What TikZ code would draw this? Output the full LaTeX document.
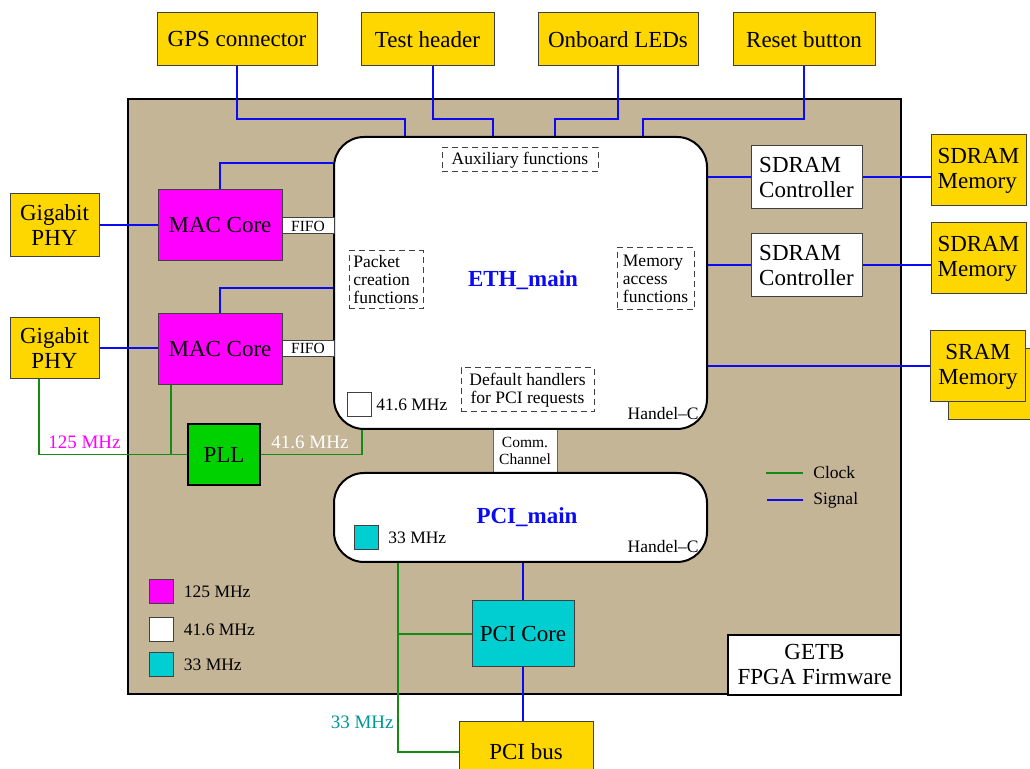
\documentclass[tikz,border=0pt]{standalone}
\usepackage{fontspec}
\setmainfont{Liberation Serif}
\usepackage{tikz}
\definecolor{colboard}{RGB}{197,181,151}
\definecolor{colext}{RGB}{255,215,0}
\definecolor{colmac}{RGB}{255,0,255}
\definecolor{colpci}{RGB}{0,206,209}
\definecolor{colpll}{RGB}{0,210,0}
\definecolor{colclock}{RGB}{20,140,20}
\definecolor{colsignal}{RGB}{10,10,245}
\definecolor{colteal}{RGB}{0,150,150}
\usetikzlibrary{
	positioning
}
\newcommand{\bigtext}{\fontsize{11.5}{12.5}\selectfont}
\newcommand{\midtext}{\fontsize{9.5}{10}\selectfont}
\newcommand{\smalltext}{\fontsize{8.75}{9}\selectfont}
\newcommand{\tinytext}{\fontsize{7.75}{8.5}\selectfont}
\tikzset{
	blocknode/.style={draw=black!75, line width=0.5pt, inner sep=1pt, align=center, font=\bigtext},
	extnode/.style={blocknode, fill=colext},
	macnode/.style={blocknode, fill=colmac, minimum width=62pt, minimum height=35.5pt},
	ctrlnode/.style={blocknode, fill=white, align=left, minimum width=55.5pt, minimum height=31.5pt},
	memnode/.style={extnode, minimum width=47.5pt, minimum height=35.5pt},
	fifonode/.style={blocknode, fill=white, font=\tinytext, inner sep=0pt, minimum width=26pt, minimum height=8pt},
	threadnode/.style={draw=black, line width=1pt, fill=white, rounded corners=15pt},
	funcnode/.style={draw=black!75, line width=0.5pt, dash pattern=on 3pt off 2pt, inner sep=1pt, font=\smalltext},
	clksquare/.style={draw=black!75, line width=0.5pt, inner sep=0pt, minimum size=12pt},
	titlenode/.style={font=\bigtext\bfseries, text=colsignal},
	smalllabel/.style={font=\smalltext, inner sep=0pt},
	midlabel/.style={font=\midtext, inner sep=0pt},
	signal/.style={colsignal, line width=1pt},
	clock/.style={colclock, line width=0.9pt}
}

\begin{document}
\begin{tikzpicture}[x=0.5pt, y=-0.5pt]
	\fill[white] (0,0) rectangle (1030,769);
	\useasboundingbox (0,0) rectangle (1030,769);

	% the FPGA board
	\node[draw=black, line width=1pt, fill=colboard, minimum width=386.5pt, minimum height=297.5pt] (fpga) at (514.5,396.5) {};
	\node[draw=black!60, line width=0.4pt, fill=white, font=\tinytext, inner sep=0pt, align=center, minimum width=32pt, minimum height=22pt] (comm) at (525,451) {Comm.\\Channel};
	\node[threadnode, minimum width=186.5pt, minimum height=146pt] (eth) at (520.5,283) {};
	\node[threadnode, minimum width=186.5pt, minimum height=44.5pt] (pcimain) at (520.5,517.5) {};
	\node[titlenode] (ethtitle) at (523,280) {ETH\_main};
	\node[titlenode] (pcititle) at (527,517) {PCI\_main};

	\node[funcnode, minimum width=78pt, minimum height=12pt] (aux) at (520,160) {Auxiliary functions};
	\node[funcnode, align=left, minimum width=37pt, minimum height=29pt] (packet) at (386,280) {Packet\\creation\\functions};
	\node[funcnode, align=left, minimum width=38.5pt, minimum height=31pt] (memacc) at (655.5,279) {Memory\\access\\functions};
	\node[funcnode, align=center, minimum width=66.5pt, minimum height=22pt] (pcidefault) at (527.5,390) {Default handlers\\for PCI requests};

	\node[clksquare, fill=white] (ethclk) at (359.5,405) {};
	\node[smalllabel, right=2pt of ethclk] (ethclklbl) {41.6 MHz};
	\node[smalllabel, anchor=base east] (ethlang) at (699,420) {Handel--C};
	\node[clksquare, fill=colpci] (pciclksq) at (366.5,538) {};
	\node[smalllabel, right=4.5pt of pciclksq] (pciclklbl) {33 MHz};
	\node[smalllabel, anchor=base east] (pcilang) at (699,553) {Handel--C};

	% legend
	\node[clksquare, fill=colmac] (key125) at (161,592) {};
	\node[smalllabel, right=5pt of key125] (key125lbl) {125 MHz};
	\node[clksquare, fill=white] (key416) at (161,630) {};
	\node[smalllabel, right=5pt of key416] (key416lbl) {41.6 MHz};
	\node[clksquare, fill=colpci] (key33) at (161,665) {};
	\node[smalllabel, right=5pt of key33] (key33lbl) {33 MHz};
	\node[smalllabel, anchor=west] (keyclock) at (813,473) {Clock};
	\node[smalllabel, anchor=west] (keysignal) at (813,500) {Signal};

	\node[blocknode, fill=white, draw=black, line width=1pt, minimum width=86.5pt, minimum height=30pt] (getb) at (814.5,665) {GETB\\FPGA Firmware};

	% blocks
	\node[blocknode, fill=colpci, minimum width=51pt, minimum height=33pt] (pcicore) at (523,634) {PCI Core};
	\node[extnode, minimum width=67pt, minimum height=30pt] (pcibus) at (526,752) {PCI bus};

	\node[macnode] (maca) at (220,225.5) {MAC Core};
	\node[macnode] (macb) at (220,349.5) {MAC Core};
	\node[fifonode] (fifoa) at (308,226) {FIFO};
	\node[fifonode] (fifob) at (308,348.5) {FIFO};
	\node[blocknode, fill=colpll, draw=black, line width=1pt, minimum width=36pt, minimum height=30.5pt] (pll) at (224,454.5) {PLL};
	\node[extnode, minimum width=44.5pt, minimum height=31.5pt] (phya) at (54.5,225.5) {Gigabit\\PHY};
	\node[extnode, minimum width=44.5pt, minimum height=30.5pt] (phyb) at (54.5,348.5) {Gigabit\\PHY};

	\node[ctrlnode] (ctrla) at (806.5,177.5) {SDRAM\\Controller};
	\node[ctrlnode] (ctrlb) at (806.5,265.5) {SDRAM\\Controller};
	\node[memnode, align=left] (mema) at (978.5,170.5) {SDRAM\\Memory};
	\node[memnode, align=left] (memb) at (978.5,258.5) {SDRAM\\Memory};
	\node[memnode] (sramback) at (995.5,384.5) {};
	\node[memnode] (sram) at (978,366.5) {SRAM\\Memory};

	\node[extnode, minimum width=80pt, minimum height=26.5pt] (gps) at (237,39.5) {GPS connector};
	\node[extnode, minimum width=66.5pt, minimum height=26.5pt] (testhdr) at (427.5,39.5) {Test header};
	\node[extnode, minimum width=80pt, minimum height=26.5pt] (leds) at (618,39.5) {Onboard LEDs};
	\node[extnode, minimum width=71pt, minimum height=26.5pt] (reset) at (804,39.5) {Reset button};

	% signals
	\draw[signal] (gps.south) -- ++(0,53) -| ([xshift=36pt]eth.north west);
	\draw[signal] ([xshift=2.5pt]testhdr.south) -- ++(0,53) -| ([xshift=80pt]eth.north west);
	\draw[signal] (leds.south) -- ++(0,53) -| ([xshift=111pt]eth.north west);
	\draw[signal] (reset.south) -- ++(0,53) -| ([xshift=155pt]eth.north west);
	\draw[signal] (phya.east) -- (phya.east -| maca.west);
	\draw[signal] (phyb.east) -- (phyb.east -| macb.west);
	\draw[signal] (maca.north) |- ([yshift=60pt]eth.west);
	\draw[signal] (macb.north) |- ([yshift=-2.5pt]eth.west);
	\draw[signal] (ctrla.west) -- (ctrla.west -| eth.east);
	\draw[signal] (ctrla.east) -- (ctrla.east -| mema.west);
	\draw[signal] (ctrlb.west) -- (ctrlb.west -| eth.east);
	\draw[signal] (ctrlb.east) -- (ctrlb.east -| memb.west);
	\draw[signal] (sram.west) -- (sram.west -| eth.east);
	\draw[signal] (pcicore.north) -- (pcicore.north |- pcimain.south);
	\draw[signal] (pcicore.south) -- (pcicore.south |- pcibus.north);
	\draw[signal] ([xshift=-5pt]keysignal.west) -- ++(-36,0);

	% clocks
	\draw[clock] ([xshift=-7.75pt]phyb.south) |- (pll.west);
	\draw[clock] ([xshift=-24.5pt]macb.south) -- ++(0,69.5);
	\draw[clock] (pll.east) -| ([xshift=14.5pt]eth.south west);
	\coordinate (pciclk) at ([xshift=32.5pt]pcimain.south west);
	\draw[clock] (pciclk) |- (pcibus.west);
	\draw[clock] (pcicore.west) -- (pcicore.west -| pciclk);
	\draw[clock] ([xshift=-5pt]keyclock.west) -- ++(-37,0);

	\node[midlabel, text=colmac, anchor=east] (lbl125) at (121,442) {125 MHz};
	\node[midlabel, text=white, anchor=west] (lbl416) at (271,442) {41.6 MHz};
	\node[midlabel, text=colteal, anchor=east] (lbl33) at (394,722) {33 MHz};
\end{tikzpicture}
\end{document}
